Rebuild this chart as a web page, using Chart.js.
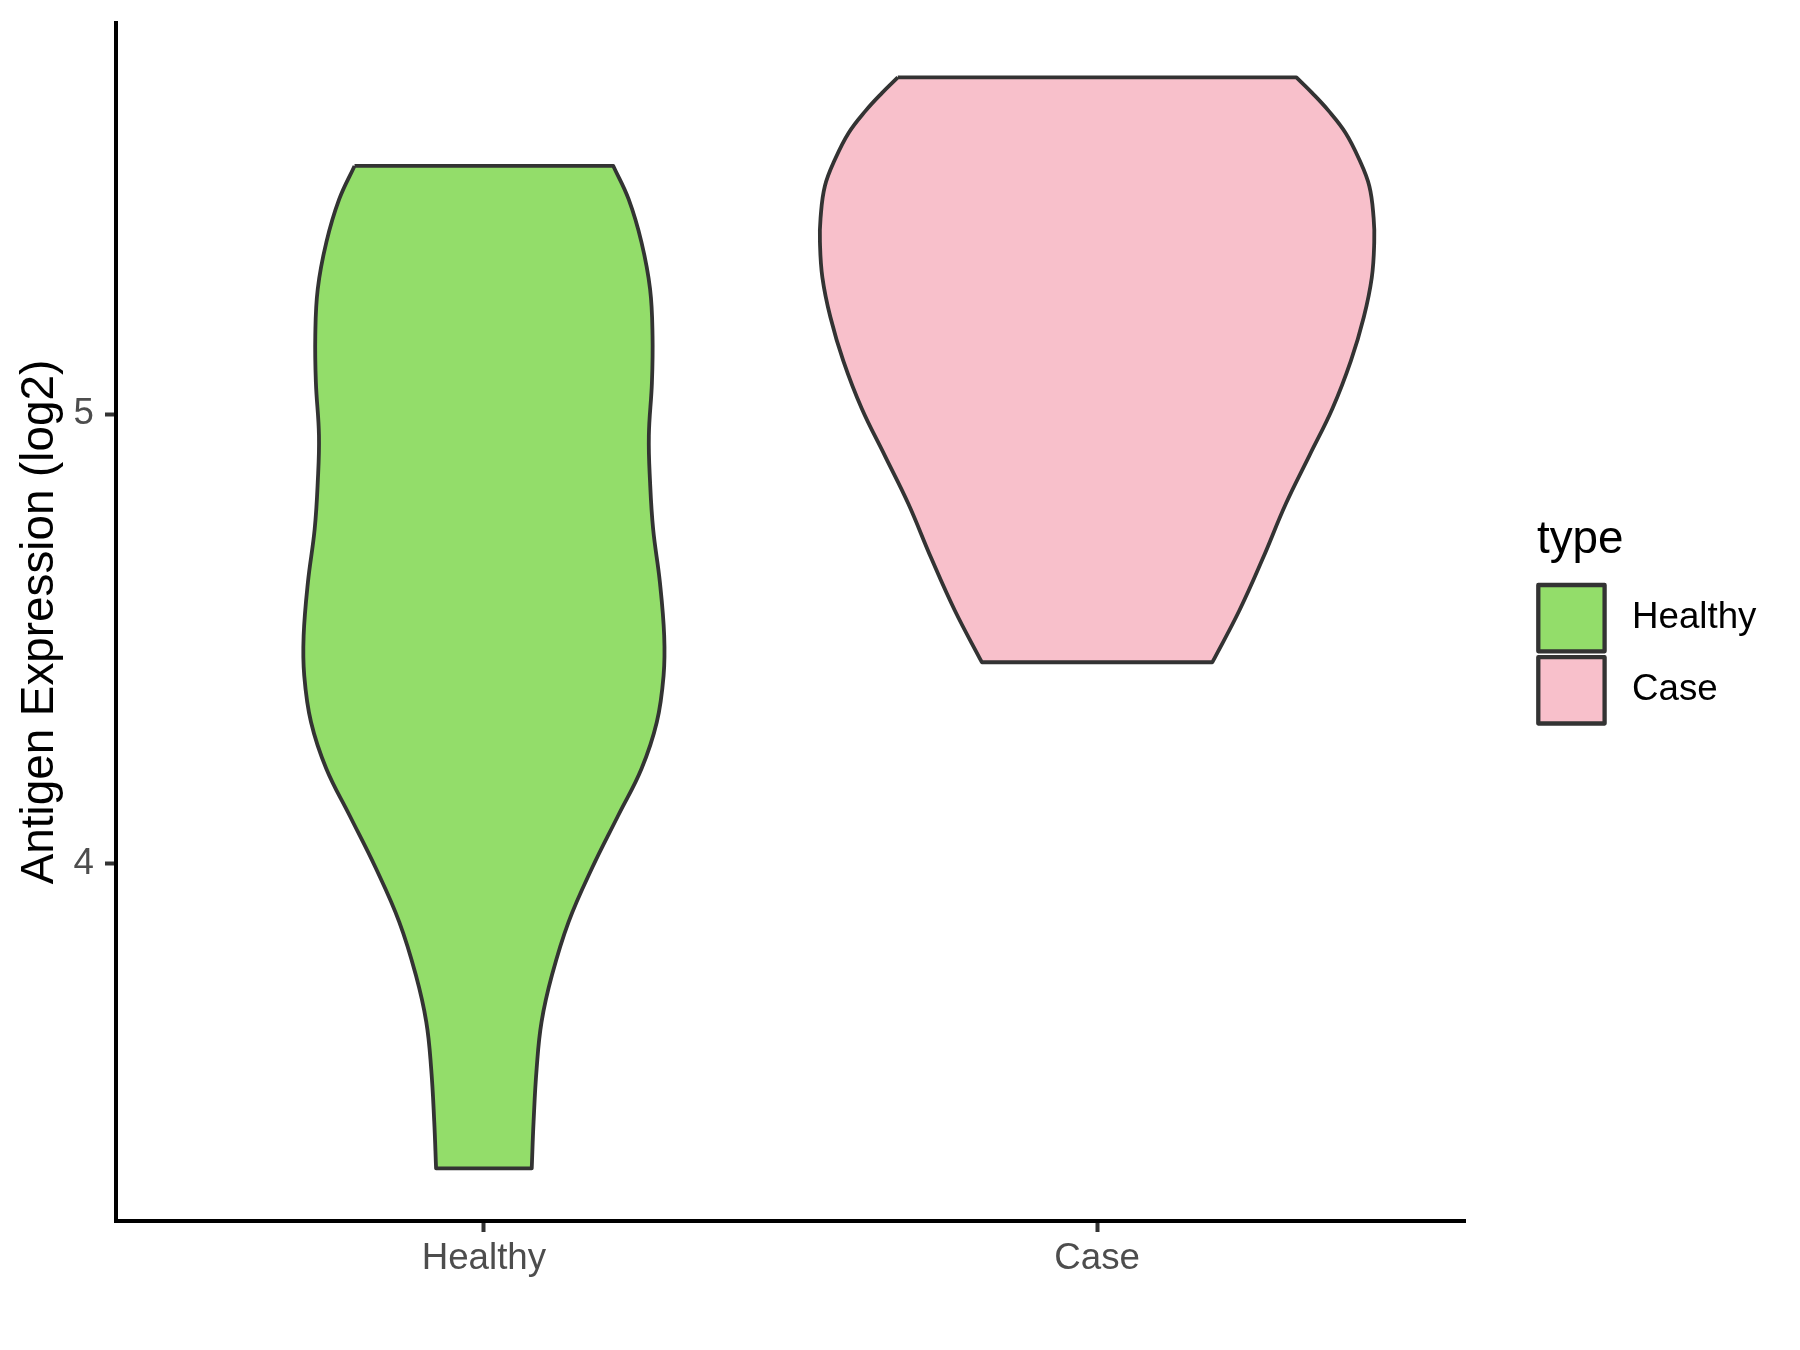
<!DOCTYPE html>
<html>
<head>
<meta charset="utf-8">
<script src="https://cdn.jsdelivr.net/npm/chart.js@4.4.1/dist/chart.umd.min.js"></script>
<style>
  html, body { margin: 0; padding: 0; background: #ffffff; }
  #wrap { width: 1800px; height: 1350px; }
</style>
</head>
<body>
<div id="wrap"><canvas id="c" width="1800" height="1350"></canvas></div>
<script>
// ---- data ----
const categories = ['Healthy', 'Case'];
const legendTitle = 'type';
const yTickValues = [4, 5];
const yAxisTitle = 'Antigen Expression (log2)';

// violin outline: expression value and density half-width (in category units)
const healthyValues = [5.552, 5.478, 5.382, 5.278, 5.174, 5.070, 4.952, 4.848, 4.744, 4.626, 4.507, 4.418, 4.315, 4.211, 4.107, 3.989, 3.870, 3.752, 3.648, 3.544, 3.426, 3.322];
const healthyHalfWidth = [0.211, 0.236, 0.257, 0.271, 0.275, 0.274, 0.269, 0.271, 0.276, 0.287, 0.294, 0.293, 0.282, 0.257, 0.219, 0.176, 0.138, 0.111, 0.094, 0.086, 0.081, 0.078];
const caseValues = [5.749, 5.714, 5.674, 5.626, 5.568, 5.507, 5.436, 5.383, 5.304, 5.216, 5.119, 5.013, 4.907, 4.801, 4.678, 4.563, 4.448];
const caseHalfWidth = [0.325, 0.351, 0.378, 0.405, 0.427, 0.444, 0.451, 0.452, 0.448, 0.435, 0.414, 0.384, 0.346, 0.308, 0.270, 0.232, 0.188];

const fillColors = ['rgb(147,221,106)', 'rgb(248,192,203)'];
const outlineColor = '#333333';
const FONT = '"Liberation Sans", Arial, Helvetica, sans-serif';

function violinPoints(center, vals, hw) {
  const n = vals.length;
  const pts = [];
  for (let i = 0; i < n; i++) pts.push({x: center - hw[i], y: vals[i]});
  pts.push({x: center - hw[n - 1], y: vals[n - 1]});
  pts.push({x: center + hw[n - 1], y: vals[n - 1]});
  for (let i = n - 1; i >= 0; i--) pts.push({x: center + hw[i], y: vals[i]});
  pts.push({x: center + hw[0], y: vals[0]});
  pts.push({x: center - hw[0], y: vals[0]});
  return pts;
}

const violins = [
  {label: categories[0], data: violinPoints(1, healthyValues, healthyHalfWidth), backgroundColor: fillColors[0]},
  {label: categories[1], data: violinPoints(2, caseValues, caseHalfWidth), backgroundColor: fillColors[1]}
];

const ggLegend = {
  id: 'ggLegend',
  afterDraw(chart) {
    const ctx = chart.ctx;
    ctx.save();
    ctx.fillStyle = '#000000';
    ctx.font = '45.8px ' + FONT;
    ctx.textAlign = 'left';
    ctx.textBaseline = 'alphabetic';
    ctx.fillText(legendTitle, 1537, 553);
    const keyX = 1538.3, keySize = 66.3, keyTop = [585, 657.2];
    chart.data.datasets.forEach((ds, i) => {
      ctx.fillStyle = ds.backgroundColor;
      ctx.fillRect(keyX, keyTop[i], keySize, keySize);
      ctx.lineWidth = 4.3;
      ctx.strokeStyle = outlineColor;
      ctx.lineJoin = 'round';
      ctx.strokeRect(keyX, keyTop[i], keySize, keySize);
      ctx.fillStyle = '#000000';
      ctx.font = '36.7px ' + FONT;
      ctx.textBaseline = 'middle';
      ctx.fillText(ds.label, 1632, keyTop[i] + keySize / 2);
    });
    ctx.restore();
  }
};

new Chart(document.getElementById('c'), {
  type: 'scatter',
  data: {
    datasets: violins.map(v => ({
      label: v.label,
      data: v.data,
      showLine: true,
      fill: 'shape',
      backgroundColor: v.backgroundColor,
      borderColor: outlineColor,
      borderWidth: 3.8,
      pointRadius: 0,
      pointHoverRadius: 0,
      tension: 0.4,
      borderJoinStyle: 'round'
    }))
  },
  options: {
    responsive: false,
    animation: false,
    events: [],
    layout: {padding: {left: 0, top: 23, right: 335, bottom: 0}},
    plugins: {legend: {display: false}, tooltip: {enabled: false}},
    scales: {
      x: {
        type: 'linear',
        min: 0.4,
        max: 2.6,
        afterBuildTicks: s => { s.ticks = categories.map((c, i) => ({value: i + 1})); },
        afterFit: s => { s.height = 129; s.paddingLeft = 0; s.paddingRight = 0; },
        ticks: {
          callback: v => categories[Math.round(v) - 1],
          color: '#4D4D4D',
          font: {family: FONT, size: 36.7},
          padding: 5,
          maxRotation: 0,
          autoSkip: false
        },
        grid: {display: true, drawOnChartArea: false, drawTicks: true, tickLength: 11, tickColor: '#333333', tickWidth: 4},
        border: {display: true, color: '#000000', width: 4}
      },
      y: {
        type: 'linear',
        min: 3.205,
        max: 5.870,
        afterBuildTicks: s => { s.ticks = yTickValues.map(v => ({value: v})); },
        afterFit: s => { s.width = 116; s.paddingTop = 0; s.paddingBottom = 0; },
        ticks: {
          callback: v => String(v),
          color: '#4D4D4D',
          font: {family: FONT, size: 36.7},
          padding: 11,
          autoSkip: false
        },
        grid: {display: true, drawOnChartArea: false, drawTicks: true, tickLength: 11, tickColor: '#333333', tickWidth: 4},
        border: {display: true, color: '#000000', width: 4},
        title: {
          display: true,
          text: yAxisTitle,
          color: '#000000',
          font: {family: FONT, size: 45.8, lineHeight: 1.2},
          padding: {top: 13, bottom: 0}
        }
      }
    }
  },
  plugins: [ggLegend]
});
</script>
</body>
</html>
